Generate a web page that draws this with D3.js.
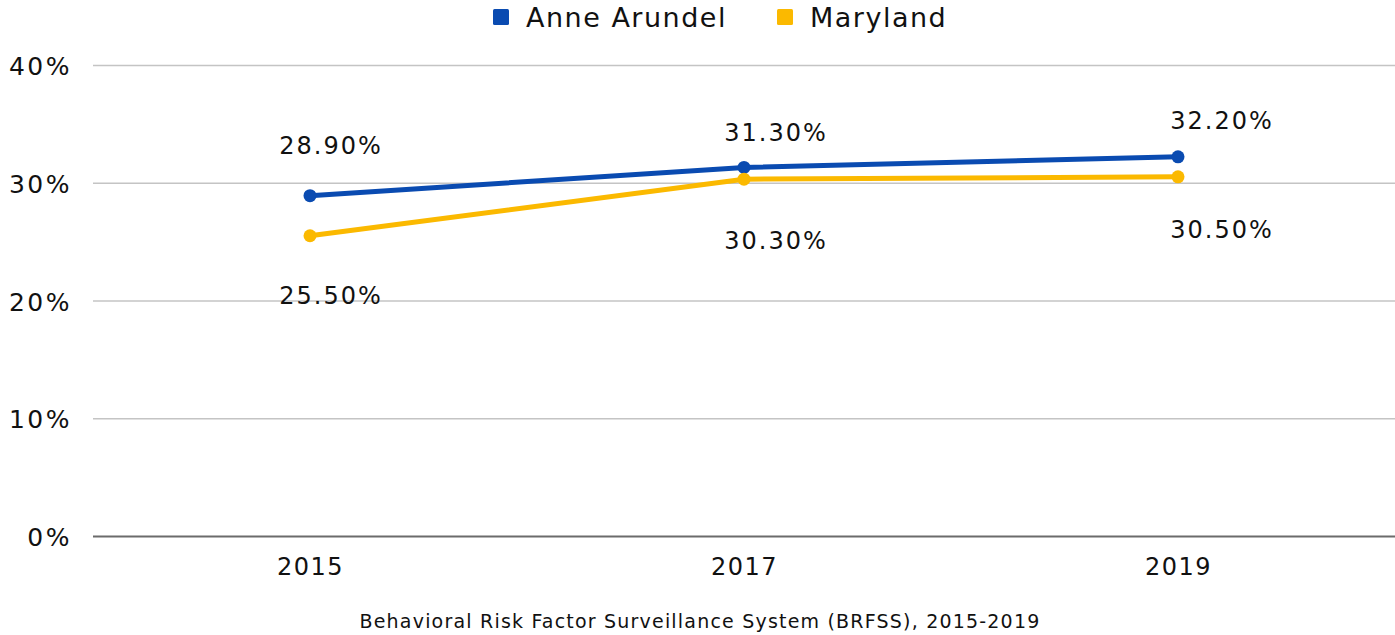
<!DOCTYPE html>
<html>
<head>
<meta charset="utf-8">
<script src="https://cdn.jsdelivr.net/npm/d3@7"></script>
<style>
  body { margin: 0; background: #fff; }
  svg text { font-family: "DejaVu Sans", sans-serif; fill: #111; }
</style>
</head>
<body>
<script>
// chart data
var years = ["2015", "2017", "2019"]
var anneArundel = [28.9, 31.3, 32.2]
var maryland = [25.5, 30.3, 30.5]
var yTicks = [0, 10, 20, 30, 40]
var seriesNames = ["Anne Arundel", "Maryland"]
var sourceText = "Behavioral Risk Factor Surveillance System (BRFSS), 2015-2019"

var width = 1395,
    height = 635
var margin = { left: 93, right: 0, top: 65, bottom: 99 }

var svg = d3.select("body").append("svg")
    .attr("width", width)
    .attr("height", height)

var x = d3.scalePoint()
    .domain(years)
    .range([margin.left, width - margin.right])
    .padding(0.5)

var y = d3.scaleLinear()
    .domain([0, 40])
    .range([height - margin.bottom, margin.top])

// gridlines
var yAxis = d3.axisLeft(y)
    .tickValues(yTicks)
    .tickSize(-(width - margin.left - margin.right))
    .tickPadding(21)
    .tickFormat(d => d + "%")

var gy = svg.append("g")
    .attr("transform", "translate(" + margin.left + ",0)")
    .call(yAxis)
gy.select(".domain").remove()
gy.selectAll(".tick line")
    .attr("stroke", d => d == 0 ? "#6b6b6b" : "#c4c4c4")
    .attr("stroke-width", d => d == 0 ? 2 : 1.5)
gy.selectAll(".tick text")
    .style("font-size", "25px")
    .style("letter-spacing", "2.5px")
    .attr("dy", "0.38em")

var xAxis = d3.axisBottom(x).tickSize(0).tickPadding(22)
var gx = svg.append("g")
    .attr("transform", "translate(0," + y(0) + ")")
    .call(xAxis)
gx.select(".domain").remove()
gx.selectAll(".tick text")
    .style("font-size", "24px")
    .style("letter-spacing", "1.5px")

var series = [
    { name: seriesNames[0], values: anneArundel, color: "#0a4bb1", dy: [-50, -35, -36] },
    { name: seriesNames[1], values: maryland, color: "#fbb900", dy: [60, 61, 52] }
]
var labelDx = [21, 32, 44]

var line = d3.line()
    .x((d, i) => x(years[i]))
    .y(d => y(d))

series.forEach(function (s) {
    svg.append("path")
        .datum(s.values)
        .attr("fill", "none")
        .attr("stroke", s.color)
        .attr("stroke-width", 5)
        .attr("d", line)
    svg.append("g").selectAll("circle")
        .data(s.values)
        .enter()
        .append("circle")
        .attr("cx", (d, i) => x(years[i]))
        .attr("cy", d => y(d))
        .attr("r", 6.5)
        .attr("fill", s.color)
})

// data labels drawn last so they sit on top
series.forEach(function (s) {
    svg.append("g").selectAll("text")
        .data(s.values)
        .enter()
        .append("text")
        .attr("x", (d, i) => x(years[i]) + labelDx[i])
        .attr("y", (d, i) => y(d) + s.dy[i])
        .attr("dy", "0.36em")
        .attr("text-anchor", "middle")
        .style("font-size", "24px")
        .style("letter-spacing", "2px")
        .text(d => d.toFixed(2) + "%")
})

// legend
var legend = svg.append("g")
var legendX = [493, 777]
seriesNames.forEach(function (name, i) {
    legend.append("rect")
        .attr("x", legendX[i])
        .attr("y", 9)
        .attr("width", 16)
        .attr("height", 16)
        .attr("rx", 1.5)
        .attr("fill", series[i].color)
    legend.append("text")
        .attr("x", legendX[i] + 33)
        .attr("y", 17)
        .attr("dy", "0.36em")
        .style("font-size", "27px")
        .style("letter-spacing", "1.5px")
        .text(name)
})

svg.append("text")
    .attr("x", 700)
    .attr("y", 621)
    .attr("dy", "0.36em")
    .attr("text-anchor", "middle")
    .style("font-size", "19px")
    .style("letter-spacing", "1.2px")
    .text(sourceText)
</script>
</body>
</html>
